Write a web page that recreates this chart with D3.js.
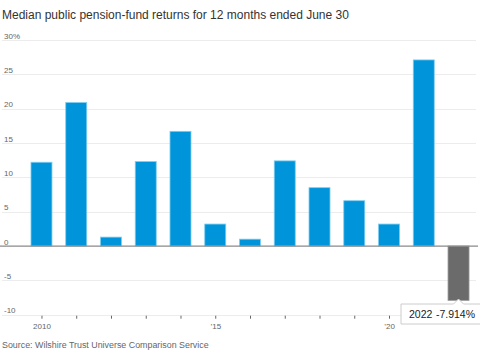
<!DOCTYPE html>
<html lang="en">
<head>
<meta charset="utf-8">
<title>Pension fund returns</title>
<script src="https://d3js.org/d3.v7.min.js"></script>
<style>
body { margin: 0; background: #fff; }
svg { display: block; font-family: "Liberation Sans", Arial, sans-serif; }
.grid line { stroke: #ececec; stroke-width: 1px; }
.ylabel { fill: #666; font-size: 8px; }
.xlabel { fill: #666; font-size: 8px; }
</style>
</head>
<body>
<div id="chart"></div>
<script>
var years = [2010, 2011, 2012, 2013, 2014, 2015, 2016, 2017, 2018, 2019, 2020, 2021, 2022];
var returns = [12.2, 20.9, 1.3, 12.3, 16.7, 3.2, 1.0, 12.4, 8.5, 6.6, 3.2, 27.1, -7.914];
var yTicks = [-10, -5, 0, 5, 10, 15, 20, 25, 30];
var xLabels = { 2010: "2010", 2015: "\u201915", 2020: "\u201920" };

var width = 480, height = 353;

var svg = d3.select("#chart").append("svg")
    .attr("width", width)
    .attr("height", height);

var x = d3.scaleLinear().domain([2009.5, 2022.5]).range([24.1, 475.9]);
var y = d3.scaleLinear().domain([-10, 30]).range([314.7, 40]);
var barW = 21;

// title
svg.append("text")
    .attr("x", 2).attr("y", 19)
    .attr("fill", "#333")
    .style("font-size", "12px")
    .text("Median public pension-fund returns for 12 months ended June 30");

// gridlines
var grid = svg.append("g").attr("class", "grid");
grid.selectAll("line").data(yTicks.filter(function(d) { return d !== 0; }))
    .enter().append("line")
    .attr("x1", 2).attr("x2", 476)
    .attr("y1", function(d) { return Math.round(y(d)) + 0.5; })
    .attr("y2", function(d) { return Math.round(y(d)) + 0.5; });

svg.selectAll(".ylabel").data(yTicks).enter().append("text")
    .attr("class", "ylabel")
    .attr("x", 4)
    .attr("y", function(d) { return y(d) - 1.5; })
    .text(function(d) { return d === 30 ? "30%" : d; });

// bars
svg.selectAll(".bar").data(years).enter().append("rect")
    .attr("class", "bar")
    .attr("x", function(d) { return x(d) - barW / 2; })
    .attr("width", barW)
    .attr("y", function(d, i) { return y(Math.max(0, returns[i])); })
    .attr("height", function(d, i) { return Math.abs(y(returns[i]) - y(0)); })
    .attr("fill", function(d) { return d === 2022 ? "#6b6b6b" : "#0095da"; })
    .attr("stroke", function(d) { return d === 2022 ? "#9a9a9a" : "#7fcdf0"; })
    .attr("stroke-width", 0.8);

// zero line
svg.append("line")
    .attr("x1", 0).attr("x2", 478)
    .attr("y1", y(0)).attr("y2", y(0))
    .attr("stroke", "#8a8a8a").attr("stroke-width", 1.2);

// x axis ticks
var xAxis = d3.axisBottom(x)
    .tickValues(years)
    .tickSize(3)
    .tickFormat(function(d) { return xLabels[d] || ""; });

var xg = svg.append("g")
    .attr("transform", "translate(0," + (y(-10) + 1) + ")")
    .call(xAxis);
xg.select(".domain").remove();
xg.selectAll(".tick line").attr("stroke", "#666");
xg.selectAll(".tick text")
    .attr("class", "xlabel")
    .attr("fill", "#666")
    .style("font-size", "8px")
    .attr("dy", "0.9em")
    .style("font-family", "Liberation Sans, Arial, sans-serif");

// tooltip for 2022
var tip = svg.append("g");
var tx = 401, ty = 304, tw = 80, th = 20;
var px = x(2022);
tip.append("path")
    .attr("d", "M" + tx + "," + ty + "H" + (px - 5) + "L" + px + "," + (ty - 5) + "L" + (px + 5) + "," + ty +
        "H" + (tx + tw) + "V" + (ty + th) + "H" + tx + "Z")
    .attr("fill", "#fff")
    .attr("stroke", "#ccc")
    .attr("stroke-width", 1);
tip.append("text")
    .attr("x", 409).attr("y", ty + 14)
    .attr("fill", "#222")
    .style("font-size", "10.5px")
    .text(years[12]);
tip.append("text")
    .attr("x", 475).attr("y", ty + 14)
    .attr("text-anchor", "end")
    .attr("fill", "#222")
    .style("font-size", "10.5px")
    .text(returns[12] + "%");

// source
svg.append("text")
    .attr("x", 2).attr("y", 347.5)
    .attr("fill", "#666")
    .style("font-size", "8.9px")
    .text("Source: Wilshire Trust Universe Comparison Service");
</script>
</body>
</html>
